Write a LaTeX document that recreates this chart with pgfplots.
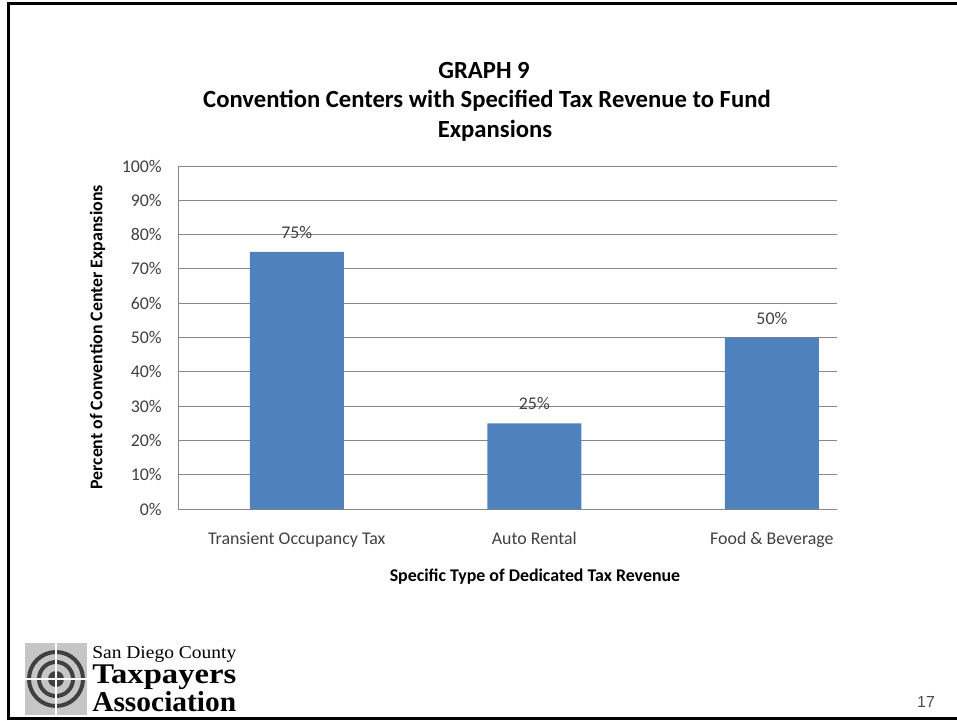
\documentclass[border=0pt]{standalone}
\usepackage{fontspec}
\setmainfont{Carlito}
\newfontfamily\arialfont{Liberation Sans}
\newfontfamily\logofont{Liberation Serif}
\usepackage{graphicx}
\usepackage{pgfplots}
\pgfplotsset{compat=1.18}

\definecolor{barblue}{HTML}{4F81BD}
\definecolor{gridgray}{HTML}{868686}
\definecolor{txtgray}{HTML}{404040}

\begin{document}
\begin{tikzpicture}
% page decoration, 1 unit = 1 px of the slide
\begin{scope}[x=0.75pt,y=-0.75pt]
  \useasboundingbox (0,0) rectangle (957,721);
  \draw[line width=2.25pt] (8.5,720) -- (8.5,3.5) -- (957,3.5);
  \draw[line width=2.25pt] (7.4,718.5) -- (957,718.5);

  % title
  \node[anchor=base, inner sep=0pt, font=\fontsize{18.5}{22}\selectfont\bfseries] at (484,78) {GRAPH 9};
  \node[anchor=base, inner sep=0pt, font=\fontsize{18.5}{22}\selectfont\bfseries] at (487,107) {Convention Centers with Specified Tax Revenue to Fund};
  \node[anchor=base, inner sep=0pt, font=\fontsize{18.5}{22}\selectfont\bfseries] at (495,137) {Expansions};

  % page number
  \node[anchor=center, inner sep=0pt, text=black!70, font=\arialfont\fontsize{12}{14}\selectfont] at (926,702) {17};

  % logo
  \fill[gray!45] (25,643) rectangle (87,715);
  \draw[black!75, line width=3pt] (56,679) circle (27);
  \draw[black!75, line width=3pt] (56,679) circle (17);
  \fill[black!75] (56,679) circle (8);
  \draw[white, line width=1.5pt] (25,679) -- (87,679);
  \draw[white, line width=1.5pt] (56,643) -- (56,715);
  \node[anchor=base west, inner sep=0pt] at (92,658) {\resizebox{108pt}{9pt}{\logofont San Diego County}};
  \node[anchor=base west, inner sep=0pt] at (92,683) {\resizebox{108pt}{14pt}{\logofont\bfseries Taxpayers}};
  \node[anchor=base west, inner sep=0pt] at (92,711) {\resizebox{108pt}{15pt}{\logofont\bfseries Association}};
\end{scope}

\begin{axis}[
  at={(133.5pt,-381.75pt)}, anchor=south west,
  scale only axis,
  width=494.25pt, height=257.25pt,
  ybar, bar width=70.5pt,
  xmin=-0.5, xmax=2.274,
  ymin=0, ymax=100,
  xtick={0,1,2},
  xticklabels={Transient Occupancy Tax, Auto Rental, Food \& Beverage},
  ytick={0,10,...,100},
  yticklabels={0\%,10\%,20\%,30\%,40\%,50\%,60\%,70\%,80\%,90\%,100\%},
  /pgf/number format/assume math mode=true,
  axis lines=left,
  axis line style={-, draw=gridgray, line width=0.75pt},
  ymajorgrids,
  grid style={draw=gridgray, line width=0.75pt},
  major tick length=0pt,
  tick label style={font=\fontsize{13.4}{16}\selectfont, text=txtgray},
  yticklabel style={anchor=east, inner sep=0pt, xshift=-12pt},
  xticklabel style={anchor=base, inner sep=0pt, yshift=-26.6pt},
  xlabel={Specific Type of Dedicated Tax Revenue},
  ylabel={Percent of Convention Center Expansions},
  label style={font=\fontsize{13.4}{16}\selectfont\bfseries},
  xlabel style={at={(axis description cs:0.5417,-0.198)}, anchor=center},
  ylabel style={at={(axis description cs:-0.1222,0.5)}, anchor=center},
  nodes near coords={\pgfmathprintnumber{\pgfplotspointmeta}\%},
  every node near coord/.append style={font=\fontsize{13.4}{16}\selectfont, text=txtgray, inner sep=0pt, yshift=9.75pt},
]
\addplot[fill=barblue, draw=none] coordinates {(0,75) (1,25) (2,50)};
\end{axis}
\end{tikzpicture}
\end{document}
